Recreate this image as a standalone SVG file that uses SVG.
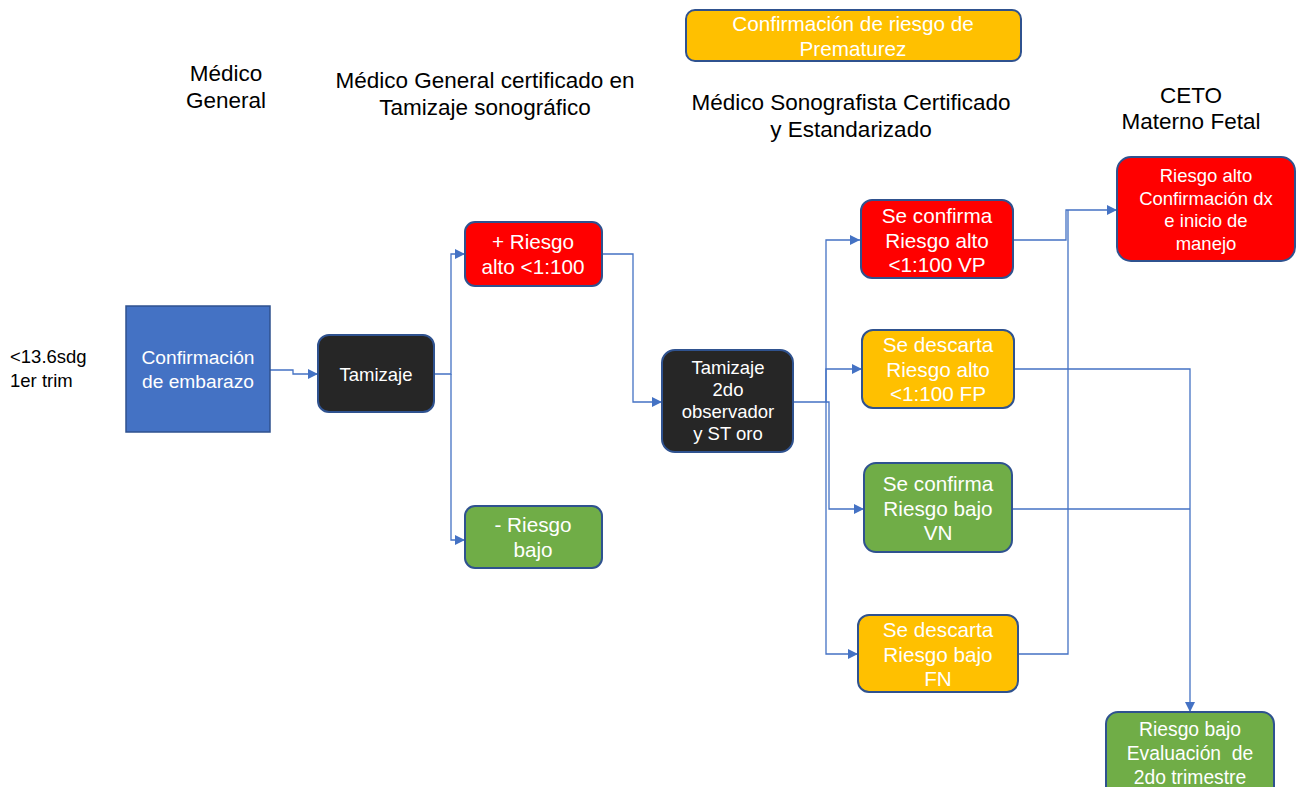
<svg xmlns="http://www.w3.org/2000/svg" width="1296" height="787" viewBox="0 0 1296 787">
<style>
.hdr{font-family:"Liberation Sans",Arial,sans-serif;font-size:22.5px;fill:#000;text-anchor:middle}
.lbl{font-family:"Liberation Sans",Arial,sans-serif;font-size:18.5px;fill:#000}
.t{font-family:"Liberation Sans",Arial,sans-serif;font-size:20.7px;fill:#fff;text-anchor:middle}
.ts{font-family:"Liberation Sans",Arial,sans-serif;font-size:18.5px;fill:#fff;text-anchor:middle}
.box{stroke:#2F528F;stroke-width:2}
.red{fill:#FF0000}
.yel{fill:#FFC000}
.grn{fill:#70AD47}
.blk{fill:#262626}
.blu{fill:#4472C4}
.c{fill:none;stroke:#4472C4;stroke-width:1.3}
</style>
<defs>
<marker id="arr" viewBox="0 0 10 10" refX="10" refY="5" markerWidth="10" markerHeight="10" markerUnits="userSpaceOnUse" orient="auto">
<path d="M0,0 L10,5 L0,10 Z" fill="#4472C4"/>
</marker>
</defs>
<rect width="1296" height="787" fill="#fff"/>

<g id="headers">
<text class="hdr" x="226" y="81">Médico</text>
<text class="hdr" x="226" y="108">General</text>
<text class="hdr" x="485" y="88">Médico General certificado en</text>
<text class="hdr" x="485" y="115">Tamizaje sonográfico</text>
<text class="hdr" x="851" y="110">Médico Sonografista Certificado</text>
<text class="hdr" x="851" y="137">y Estandarizado</text>
<text class="hdr" x="1191" y="103">CETO</text>
<text class="hdr" x="1191" y="129">Materno Fetal</text>
<text class="lbl" x="10" y="363">&lt;13.6sdg</text>
<text class="lbl" x="10" y="387">1er trim</text>
</g>

<g id="connectors">
<path class="c" d="M270,370 H293 V374 H318" marker-end="url(#arr)"/>
<path class="c" d="M434,374 H451 V254 H465" marker-end="url(#arr)"/>
<path class="c" d="M451,374 V540 H465" marker-end="url(#arr)"/>
<path class="c" d="M602,254 H633 V402 H662" marker-end="url(#arr)"/>
<path class="c" d="M793,402 H826 V240 H860" marker-end="url(#arr)"/>
<path class="c" d="M826,402 V369 H862" marker-end="url(#arr)"/>
<path class="c" d="M826,402 H829 V509 H864" marker-end="url(#arr)"/>
<path class="c" d="M826,402 V654 H858" marker-end="url(#arr)"/>
<path class="c" d="M1013,240 H1066 V210 H1117" marker-end="url(#arr)"/>
<path class="c" d="M1018,654 H1068 V210"/>
<path class="c" d="M1014,369 H1190 V712" marker-end="url(#arr)"/>
<path class="c" d="M1012,509 H1190"/>
</g>

<g id="n-prematurez">
<rect class="box yel" x="686" y="10" width="335" height="51" rx="9"/>
<text class="t" x="853" y="31">Confirmación de riesgo de</text>
<text class="t" x="853" y="56">Prematurez</text>
</g>

<g id="n-confirmacion">
<rect class="blu" x="126" y="306" width="144" height="126" stroke="#2F528F" stroke-width="1.5"/>
<text class="ts" x="198" y="364" style="font-size:19.2px">Confirmación</text>
<text class="ts" x="198" y="388" style="font-size:19.2px">de embarazo</text>
</g>

<g id="n-tamizaje">
<rect class="box blk" x="318" y="335" width="116" height="77" rx="11"/>
<text class="ts" x="376" y="381">Tamizaje</text>
</g>

<g id="n-riesgo-alto">
<rect class="box red" x="465" y="222" width="137" height="64" rx="10"/>
<text class="t" x="533" y="249">+ Riesgo</text>
<text class="t" x="533" y="274">alto &lt;1:100</text>
</g>

<g id="n-riesgo-bajo">
<rect class="box grn" x="465" y="506" width="137" height="62" rx="10"/>
<text class="t" x="533" y="532">- Riesgo</text>
<text class="t" x="533" y="557">bajo</text>
</g>

<g id="n-tamizaje2">
<rect class="box blk" x="662" y="350" width="131" height="102" rx="13"/>
<text class="ts" x="728" y="374">Tamizaje</text>
<text class="ts" x="728" y="396">2do</text>
<text class="ts" x="728" y="418">observador</text>
<text class="ts" x="728" y="440">y ST oro</text>
</g>

<g id="n-vp">
<rect class="box red" x="861" y="200" width="152" height="78" rx="11"/>
<text class="t" x="937" y="223">Se confirma</text>
<text class="t" x="937" y="248">Riesgo alto</text>
<text class="t" x="937" y="272">&lt;1:100 VP</text>
</g>

<g id="n-fp">
<rect class="box yel" x="862" y="330" width="152" height="78" rx="11"/>
<text class="t" x="938" y="352">Se descarta</text>
<text class="t" x="938" y="377">Riesgo alto</text>
<text class="t" x="938" y="401">&lt;1:100 FP</text>
</g>

<g id="n-vn">
<rect class="box grn" x="864" y="463" width="148" height="89" rx="12"/>
<text class="t" x="938" y="491">Se confirma</text>
<text class="t" x="938" y="516">Riesgo bajo</text>
<text class="t" x="938" y="540">VN</text>
</g>

<g id="n-fn">
<rect class="box yel" x="858" y="615" width="160" height="77" rx="11"/>
<text class="t" x="938" y="637">Se descarta</text>
<text class="t" x="938" y="662">Riesgo bajo</text>
<text class="t" x="938" y="686">FN</text>
</g>

<g id="n-alto-final">
<rect class="box red" x="1117" y="157" width="178" height="104" rx="14"/>
<text class="ts" x="1206" y="182">Riesgo alto</text>
<text class="ts" x="1206" y="205">Confirmación dx</text>
<text class="ts" x="1206" y="227">e inicio de</text>
<text class="ts" x="1206" y="250">manejo</text>
</g>

<g id="n-bajo-final">
<rect class="box grn" x="1106" y="712" width="168" height="90" rx="12"/>
<text class="ts" x="1190" y="736" style="font-size:19.3px">Riesgo bajo</text>
<text class="ts" x="1190" y="760" style="font-size:19.3px;white-space:pre" xml:space="preserve">Evaluación  de</text>
<text class="ts" x="1190" y="784" style="font-size:19.3px">2do trimestre</text>
</g>
</svg>
